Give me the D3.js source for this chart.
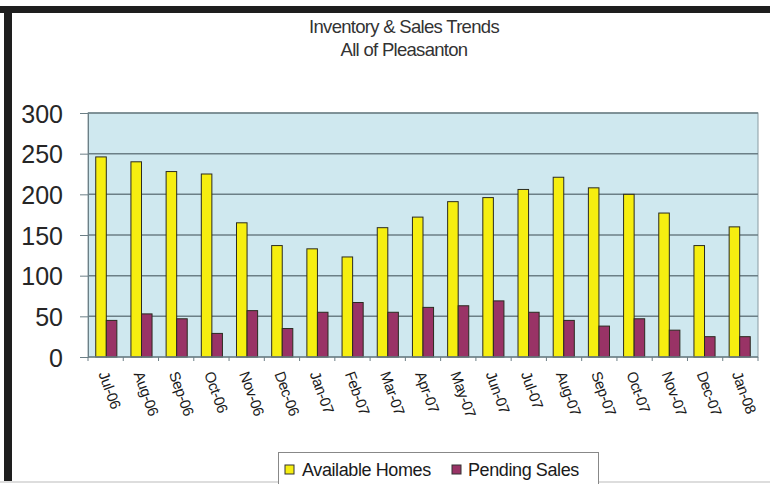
<!DOCTYPE html>
<html>
<head>
<meta charset="utf-8">
<script src="https://cdn.jsdelivr.net/npm/d3@7"></script>
<style>
  body { margin: 0; background: #fff; }
  text { font-family: "Liberation Sans", Arial, sans-serif; }
</style>
</head>
<body>
<div id="canvas"></div>
<script>
(function(){

    // data
    var months = ["Jul-06","Aug-06","Sep-06","Oct-06","Nov-06","Dec-06","Jan-07","Feb-07","Mar-07","Apr-07",
                  "May-07","Jun-07","Jul-07","Aug-07","Sep-07","Oct-07","Nov-07","Dec-07","Jan-08"];
    var available = [246,240,228,225,165,137,133,123,159,172,191,196,206,221,208,200,177,137,160];
    var pending   = [45,53,47,29,57,35,55,67,55,61,63,69,55,45,38,47,33,25,25];
    var seriesNames = ["Available Homes","Pending Sales"];
    var seriesColors = ["#f6ee10","#993366"];
    var yTicks = [0,50,100,150,200,250,300];

    var W = 770, H = 484;
    var svg = d3.select("#canvas").append("svg").attr("width",W).attr("height",H);

    // frame
    svg.append("rect").attr("x",0).attr("y",0).attr("width",W).attr("height",H).attr("fill","#fff");
    svg.append("rect").attr("x",0).attr("y",6).attr("width",W).attr("height",7).attr("fill","#1e1e1e");
    svg.append("rect").attr("x",4).attr("y",6).attr("width",8).attr("height",475).attr("fill","#1e1e1e");
    svg.append("line").attr("x1",0).attr("x2",W).attr("y1",482).attr("y2",482).attr("stroke","#bbb");

    // title
    var title = svg.append("text").attr("text-anchor","middle").attr("fill","#333")
        .style("font-size","18.5px").style("letter-spacing","-0.7px");
    title.append("tspan").attr("x",404).attr("y",33).text("Inventory & Sales Trends");
    title.append("tspan").attr("x",404).attr("y",56).text("All of Pleasanton");

    var left = 88, right = 758, top = 113, bottom = 357;

    var x0 = d3.scaleBand().domain(months).range([left,right]).paddingInner(0.4).paddingOuter(0.22);
    var x1 = d3.scaleBand().domain(d3.range(2)).range([0,x0.bandwidth()]);
    var y = d3.scaleLinear().domain([0,300]).range([bottom,top]);

    // plot area
    svg.append("rect").attr("x",left).attr("y",top).attr("width",right-left).attr("height",bottom-top)
        .attr("fill","#cfe8ef").attr("stroke","#8a9ca2").attr("stroke-width",1);

    // gridlines
    svg.append("g").selectAll("line").data(yTicks.slice(1)).enter().append("line")
        .attr("x1",left).attr("x2",right)
        .attr("y1",function(d){return y(d);}).attr("y2",function(d){return y(d);})
        .attr("stroke","#6c7f86").attr("stroke-width",1.5);

    // bars
    var groups = svg.append("g").selectAll("g").data(months).enter().append("g")
        .attr("transform",function(d){return "translate("+x0(d)+",0)";});
    groups.selectAll("rect").data(function(d,i){return [available[i],pending[i]];}).enter().append("rect")
        .attr("x",function(d,j){return x1(j);})
        .attr("y",function(d){return y(d);})
        .attr("width",x1.bandwidth())
        .attr("height",function(d){return bottom-y(d);})
        .attr("fill",function(d,j){return seriesColors[j];})
        .attr("stroke","#2b2b20").attr("stroke-width",1);

    // y axis
    var yAxis = d3.axisLeft(y).tickValues(yTicks).tickSize(8).tickPadding(17);
    var yg = svg.append("g").attr("transform","translate("+left+",0)").call(yAxis);
    yg.select(".domain").attr("stroke","#6c7f86");
    yg.selectAll(".tick line").attr("stroke","#6c7f86");
    yg.selectAll("text").attr("fill","#262626").style("font-size","25px")
        .style("font-family","'Liberation Sans', Arial, sans-serif").attr("dy","0.36em");

    // x axis
    var xg = svg.append("g").attr("transform","translate(0,"+bottom+")");
    xg.append("line").attr("x1",left).attr("x2",right).attr("stroke","#6c7f86").attr("stroke-width",1.5);
    xg.selectAll("line.tk").data(months.concat(["end"])).enter().append("line").attr("class","tk")
        .attr("x1",function(d,i){return left + i*(right-left)/months.length;})
        .attr("x2",function(d,i){return left + i*(right-left)/months.length;})
        .attr("y1",0).attr("y2",4).attr("stroke","#6c7f86");
    xg.selectAll("text").data(months).enter().append("text")
        .attr("transform",function(d){return "translate("+(x0(d)+x0.bandwidth()/2-3)+",15) rotate(70)";})
        .attr("dy","0.35em")
        .attr("fill","#1a1a1a").style("font-size","15px").style("letter-spacing","-0.4px")
        .text(function(d){return d;});

    // legend
    var lg = svg.append("g");
    lg.append("rect").attr("x",278.5).attr("y",452.5).attr("width",320).attr("height",40)
        .attr("fill","#fff").attr("stroke","#888");
    var items = [{x:285, tx:302},{x:452, tx:468}];
    items.forEach(function(it,i){
        lg.append("rect").attr("x",it.x).attr("y",465).attr("width",9).attr("height",9)
            .attr("fill",seriesColors[i]).attr("stroke","#333");
        lg.append("text").attr("x",it.tx).attr("y",476).attr("fill","#1a1a1a")
            .style("font-size","18px").style("letter-spacing","-0.4px").text(seriesNames[i]);
    });

})();
</script>
</body>
</html>
